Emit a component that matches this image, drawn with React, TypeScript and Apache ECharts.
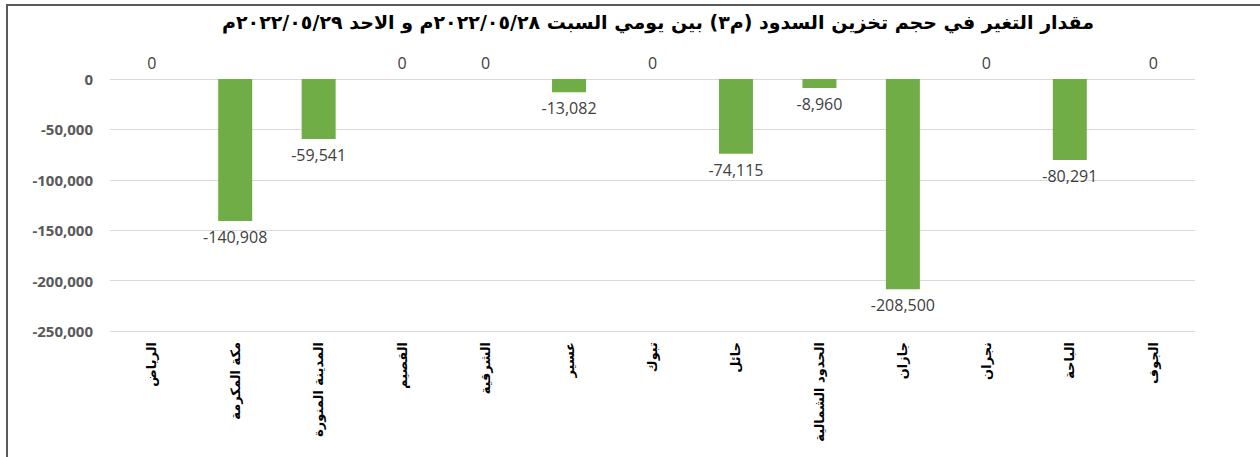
import React, { useEffect, useRef } from "react";
import * as echarts from "echarts";

const titleText =
  "مقدار التغير في حجم تخزين السدود (م٣) بين يومي السبت ٢٠٢٢/٠٥/٢٨م و الاحد ٢٠٢٢/٠٥/٢٩م";
const categories = [
  "الرياض",
  "مكة المكرمة",
  "المدينة المنورة",
  "القصيم",
  "الشرقية",
  "عسير",
  "تبوك",
  "حائل",
  "الحدود الشمالية",
  "جازان",
  "نجران",
  "الباحة",
  "الجوف",
];
const values = [0, -140908, -59541, 0, 0, -13082, 0, -74115, -8960, -208500, 0, -80291, 0];
const yMin = -250000;
const yMax = 0;
const yInterval = 50000;

export default function App() {
  const ref = useRef<HTMLDivElement>(null);
  useEffect(() => {
    if (!ref.current) return;
    const chart = echarts.init(ref.current, null, { renderer: "svg" });
    chart.setOption({
      animation: false,
      backgroundColor: "#ffffff",
      title: {
        text: titleText,
        left: 653,
        top: 7,
        textAlign: "center",
        textStyle: {
          fontFamily: "DejaVu Sans",
          fontWeight: "bold",
          fontSize: 19,
          color: "#000000",
        },
      },
      graphic: [
        {
          type: "rect",
          shape: { x: 7, y: 5, width: 1400, height: 600 },
          style: { fill: "none", stroke: "#595959", lineWidth: 2 },
          silent: true,
        },
      ],
      grid: { left: 110, right: 65, top: 79, bottom: 126, containLabel: false },
      xAxis: {
        type: "category",
        data: categories,
        position: "bottom",
        axisLine: { show: false },
        axisTick: { show: false },
        axisLabel: {
          rotate: 90,
          interval: 0,
          margin: 11,
          fontFamily: "DejaVu Sans",
          fontWeight: "bold",
          fontSize: 13,
          color: "#000000",
        },
      },
      yAxis: {
        type: "value",
        min: yMin,
        max: yMax,
        interval: yInterval,
        axisLine: { show: false },
        axisTick: { show: false },
        splitLine: { lineStyle: { color: "#d9d9d9", width: 1 } },
        axisLabel: {
          margin: 17,
          fontFamily: "Open Sans",
          fontWeight: "bold",
          fontSize: 15,
          color: "#595959",
          formatter: (v: number) => v.toLocaleString("en-US"),
        },
      },
      series: [
        {
          type: "bar",
          barWidth: 34,
          itemStyle: { color: "#70ad47" },
          data: values.map((v) => ({
            value: v,
            label: { position: v < 0 ? "bottom" : "top" },
          })),
          label: {
            show: true,
            distance: 8,
            fontFamily: "Open Sans",
            fontSize: 16,
            color: "#404040",
            formatter: (p: any) => Number(p.value).toLocaleString("en-US"),
          },
        },
      ],
    });
    return () => chart.dispose();
  }, []);
  return (
    <div
      ref={ref}
      style={{ position: "fixed", left: 0, top: 0, width: 1260, height: 457 }}
    />
  );
}
